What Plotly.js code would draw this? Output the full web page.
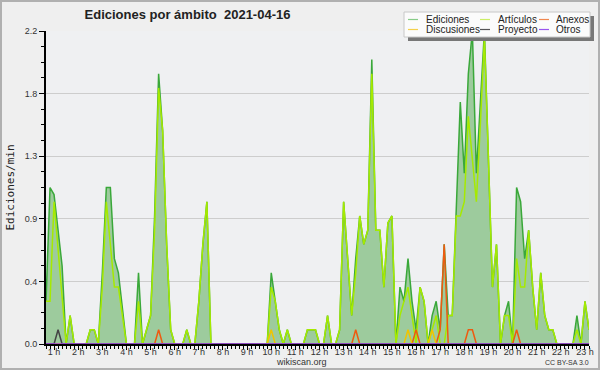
<!DOCTYPE html>
<html><head><meta charset="utf-8">
<script src="https://cdn.plot.ly/plotly-3.0.1.min.js"></script>
<style>html,body{margin:0;padding:0;background:#efefef}</style>
</head><body><div id="chart" style="width:600px;height:370px"></div>
<script>
// time grid: 10-minute bins starting at 00:40
const startMinute = 40;
const stepMinutes = 10;

const ediciones = [
  0.3,1.1,1.05,0.8,0.55,0,0.2,0,0,0,0,0.1,
  0.1,0,0.5,1.1,1.1,0.6,0.5,0.25,0,0,0,0.5,
  0,0.1,0.2,0.9,1.9,1.5,0.7,0.1,0,0,0,0.1,
  0,0,0.3,0.7,1.0,0,0,0,0,0,0,0,
  0,0,0,0,0,0,0,0,0.5,0.3,0.1,0,
  0.1,0,0,0,0,0.1,0.1,0.1,0,0,0.2,0,
  0,0.1,1.0,0.6,0.2,0.6,0.9,0.7,0.8,2.0,0.8,0.8,
  0.4,0.85,0.9,0,0.4,0.3,0.6,0.3,0.1,0.4,0.3,0,
  0.2,0.3,0.1,0.7,0.2,0.2,0.9,1.7,1.2,1.9,2.2,1.2,
  1.7,2.2,1.3,0.4,0.7,0,0.2,0.3,0,1.1,1.0,0.6,
  0.8,0.4,0.1,0.5,0.2,0.1,0.1,0,0,0,0,0,
  0.2,0,0.3,0.1
];
const articulos = [
  0.3,0.3,1.0,0.65,0.3,0,0.2,0,0,0,0,0.1,
  0.1,0,0.4,1.0,0.7,0.4,0.4,0.2,0,0,0,0.3,
  0,0.1,0.2,0.8,1.8,1.5,0.7,0.1,0,0,0,0.1,
  0,0,0.3,0.7,1.0,0,0,0,0,0,0,0,
  0,0,0,0,0,0,0,0,0.4,0.3,0.1,0,
  0.1,0,0,0,0,0.1,0.1,0.1,0,0,0.2,0,
  0,0.1,1.0,0.6,0.2,0.5,0.9,0.7,0.8,1.9,0.8,0.8,
  0.4,0.85,0.9,0,0.2,0.3,0.4,0.2,0,0.4,0.3,0,
  0.1,0.2,0,0,0.2,0.2,0.9,0.9,1.0,1.6,1.3,1.0,
  1.55,2.15,1.3,0.4,0.7,0,0.2,0.2,0,0.6,0.4,0.4,
  0.8,0.4,0.1,0.5,0.2,0.1,0.1,0,0,0,0,0,
  0.1,0,0.3,0.1
];
const anexos = [
  0,0,0,0,0,0,0,0,0,0,0,0,
  0,0,0,0,0,0,0,0,0,0,0,0,
  0,0,0,0,0.1,0,0,0,0,0,0,0,
  0,0,0,0,0,0,0,0,0,0,0,0,
  0,0,0,0,0,0,0,0,0,0,0,0,
  0,0,0,0,0,0,0,0,0,0,0,0,
  0,0,0,0,0,0.1,0,0,0,0,0,0,
  0,0,0,0,0,0,0,0,0.1,0,0,0,
  0,0,0.1,0.7,0,0,0,0,0,0.1,0.1,0,
  0,0,0,0,0,0,0,0,0,0.1,0,0,
  0,0,0,0,0,0,0,0,0,0,0,0,
  0,0,0,0
];
const discusiones = [
  0,0,0,0,0,0,0,0,0,0,0,0,
  0,0,0,0,0,0,0,0,0,0,0,0,
  0,0,0,0,0,0,0,0,0,0,0,0,
  0,0,0,0,0,0,0,0,0,0,0,0,
  0,0,0,0,0,0,0,0,0.1,0,0,0,
  0,0,0,0,0,0,0,0,0,0,0,0,
  0,0,0,0,0,0,0,0,0,0,0,0,
  0,0,0,0,0,0,0.1,0,0,0,0,0,
  0.1,0,0,0,0,0,0,0,0,0,0,0,
  0,0,0,0,0,0,0,0,0,0,0,0,
  0,0,0,0,0,0,0,0,0,0,0,0,
  0,0,0,0
];
const proyecto = [
  0,0,0,0.1,0,0,0,0,0,0,0,0,
  0,0,0,0,0,0,0,0,0,0,0,0,
  0,0,0,0,0,0,0,0,0,0,0,0,
  0,0,0,0,0,0,0,0,0,0,0,0,
  0,0,0,0,0,0,0,0,0,0,0,0,
  0,0,0,0,0,0,0,0,0,0,0,0,
  0,0,0,0,0,0,0,0,0,0,0,0,
  0,0,0,0,0,0,0,0,0,0,0,0,
  0,0,0,0,0,0,0,0,0,0,0,0,
  0,0,0,0,0,0,0,0,0,0,0,0,
  0,0,0,0,0,0,0,0,0,0,0,0,
  0,0,0,0
];
const otros = [
  0,0,0,0,0,0,0,0,0,0,0,0,
  0,0,0,0,0,0,0,0,0,0,0,0,
  0,0,0,0,0,0,0,0,0,0,0,0,
  0,0,0,0,0,0,0,0,0,0,0,0,
  0,0,0,0,0,0,0,0,0,0,0,0,
  0,0,0,0,0,0,0,0,0,0,0,0,
  0,0,0,0,0,0,0,0,0,0,0,0,
  0,0,0,0,0,0,0,0,0,0,0,0,
  0,0,0,0,0,0,0,0,0,0,0,0,
  0,0,0,0,0,0,0,0,0,0,0,0,
  0,0,0,0,0,0,0,0,0,0,0,0,
  0,0,0,0
];
const hourTicks = [1,2,3,4,5,6,7,8,9,10,11,12,13,14,15,16,17,18,19,20,21,22,23];
const hourLabels = ["1 h","2 h","3 h","4 h","5 h","6 h","7 h","8 h","9 h","10 h","11 h","12 h",
  "13 h","14 h","15 h","16 h","17 h","18 h","19 h","20 h","21 h","22 h","23 h"];

const seriesNames = ["Ediciones","Artículos","Anexos","Discusiones","Proyecto","Otros"];
const seriesColors = ["#3aa83a","#a6ea00","#ee5a10","#f0c400","#444444","#9a44ee"];
const legendColors = ["#88cc88","#ccee66","#f08850","#f4d04c","#555555","#9955ee"];

// x in hours
const hours = ediciones.map((_, i) => (startMinute + i * stepMinutes) / 60);

const allSeries = [ediciones, articulos, anexos, discusiones, proyecto, otros];
const traces = allSeries.map((vals, i) => ({
  type: 'scatter', mode: 'lines', name: seriesNames[i],
  x: hours, y: vals,
  line: {color: seriesColors[i], width: 1.5},
  fill: i === 0 ? 'tozeroy' : 'none',
  fillcolor: '#9dcb9d',
  showlegend: false, hoverinfo: 'skip'
}));

// pixel helpers (plot area 46..589 x 31..344)
const L = 46, R = 589, T = 31, B = 344;
const fx = p => (p - L) / (R - L);
const fy = p => (B - p) / (B - T);

const shapes = [
  {type:'rect', xref:'paper', yref:'paper', x0:fx(1), x1:fx(599), y0:fy(1), y1:fy(369),
   line:{color:'#b0b0b0', width:2}, fillcolor:'rgba(0,0,0,0)', layer:'below'},
  {type:'rect', xref:'paper', yref:'paper', x0:fx(408), x1:fx(594), y0:fy(16), y1:fy(41),
   line:{width:0}, fillcolor:'#777777', layer:'above'},
  {type:'rect', xref:'paper', yref:'paper', x0:fx(404), x1:fx(590), y0:fy(12), y1:fy(37),
   line:{color:'#c8c8c8', width:1}, fillcolor:'#fbfbfb', layer:'above'}
];
const colX = [[408,418,425],[480,490,497],[539,549,555]];
const rowY = [19.5, 29.5];
const annotations = [];
seriesNames.forEach((n, i) => {
  const c = colX[i % 3], r = rowY[Math.floor(i / 3)];
  shapes.push({type:'line', xref:'paper', yref:'paper', x0:fx(c[0]), x1:fx(c[1]), y0:fy(r), y1:fy(r),
    line:{color:legendColors[i], width:1.2}, layer:'above'});
  annotations.push({xref:'paper', yref:'paper', x:fx(c[2]-1), y:fy(r), xanchor:'left', yanchor:'middle',
    text:n, showarrow:false, font:{family:'Liberation Sans, Arial, sans-serif', size:10, color:'#222'}});
});
annotations.push({xref:'paper', yref:'paper', x:fx(301), y:fy(362), xanchor:'center', yanchor:'middle',
  text:'wikiscan.org', showarrow:false, font:{family:'Liberation Sans, Arial, sans-serif', size:9, color:'#333'}});
annotations.push({xref:'paper', yref:'paper', x:fx(591), y:fy(362), xanchor:'right', yanchor:'middle',
  text:'CC BY-SA 3.0', showarrow:false, font:{family:'Liberation Sans, Arial, sans-serif', size:7, color:'#333'}});

const layout = {
  width: 600, height: 370,
  margin: {l: L, r: 600 - R, t: T, b: 370 - B, pad: 0},
  paper_bgcolor: '#efefef', plot_bgcolor: '#eff0f2',
  showlegend: false,
  title: {text: 'Ediciones por ámbito  2021-04-16', xref:'container', yref:'container',
    x: 187.5/600, xanchor:'center', y: 1 - 14/370, yanchor:'middle',
    font: {family:'Liberation Sans, Arial, sans-serif', size:13, color:'#222', weight:'bold'}},
  xaxis: {
    range: [startMinute/60, (startMinute + (ediciones.length - 1) * stepMinutes)/60],
    tickmode:'array', tickvals: hourTicks, ticktext: hourLabels,
    ticks:'outside', ticklen:4, tickcolor:'#000', tickwidth:1,
    ticklabelstandoff: -6,
    minor: {tickmode:'linear', tick0:0, dtick: stepMinutes/60, ticks:'outside', ticklen:3, tickcolor:'#000', tickwidth:1, showgrid:false},
    showline:true, linecolor:'#000', linewidth:2, showgrid:false, zeroline:false,
    tickfont:{family:'Liberation Sans, Arial, sans-serif', size:9, color:'#333'},
    fixedrange:true, automargin:false
  },
  yaxis: {
    range: [0, 2.2], tick0:0, dtick:0.44, tickformat:'.1f',
    ticks:'outside', ticklen:5, tickcolor:'#000', tickwidth:1,
    minor: {tickmode:'linear', tick0:0, dtick:0.11, ticks:'outside', ticklen:3, tickcolor:'#000', tickwidth:1, showgrid:false},
    showline:true, linecolor:'#000', linewidth:2,
    showgrid:true, gridcolor:'#cdcdcd', gridwidth:1, zeroline:false,
    tickfont:{family:'Liberation Sans, Arial, sans-serif', size:9, color:'#333'},
    title:{text:'Ediciones/min', standoff:8, font:{family:'DejaVu Sans Mono, monospace', size:11, color:'#222'}},
    fixedrange:true, automargin:false
  },
  shapes: shapes,
  annotations: annotations
};
Plotly.newPlot('chart', traces, layout, {displayModeBar:false, staticPlot:true});
</script></body></html>
